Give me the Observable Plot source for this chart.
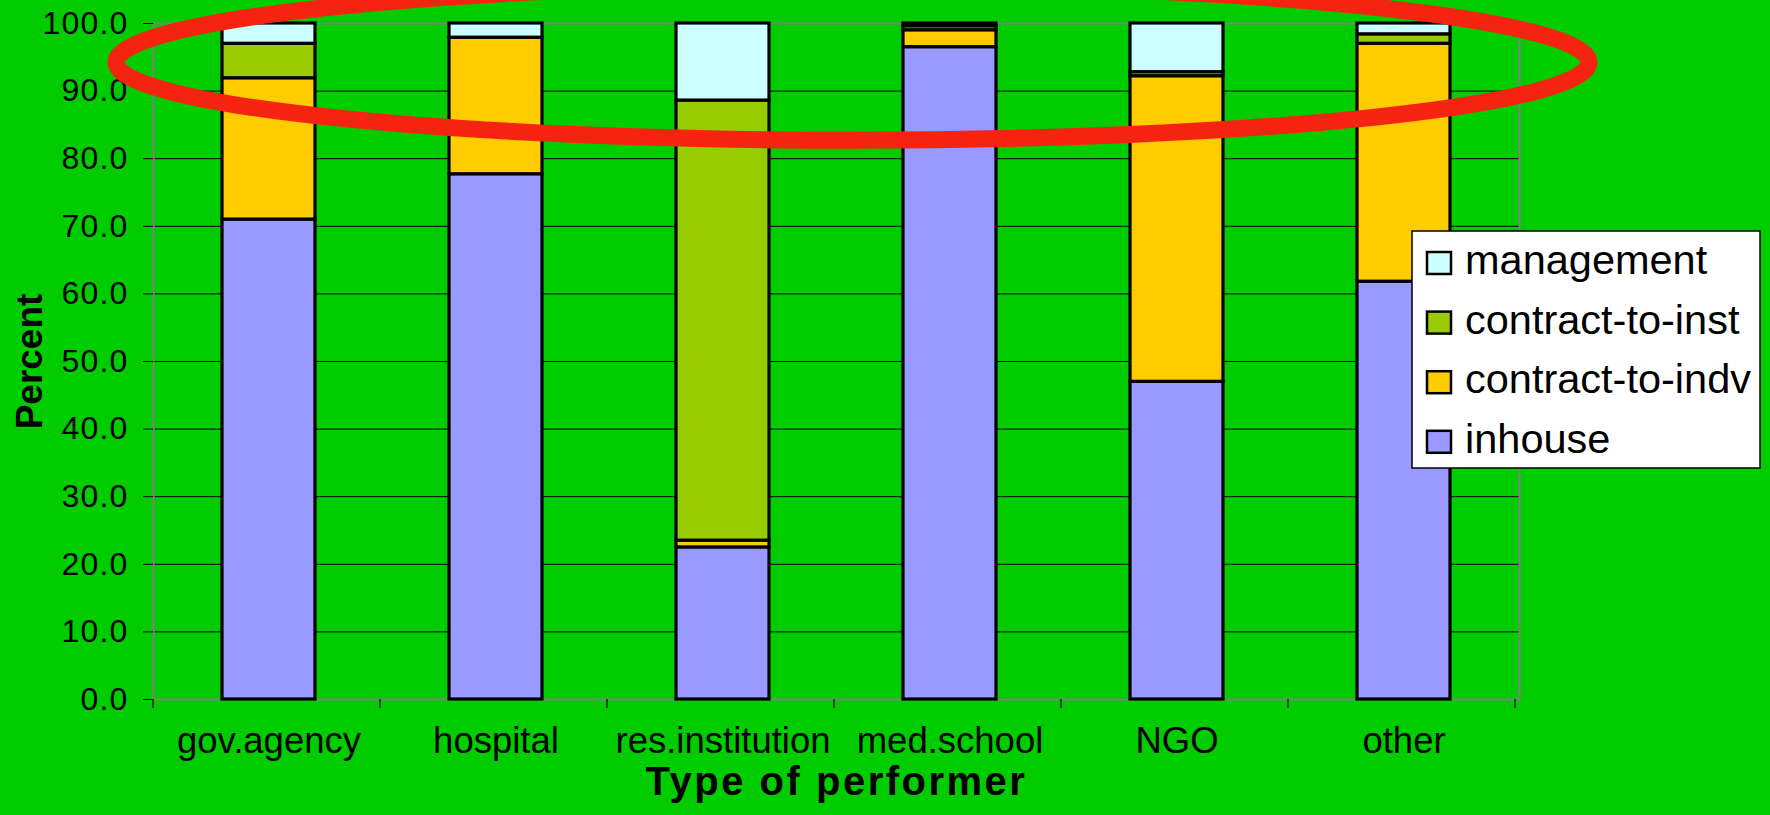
<!DOCTYPE html>
<html>
<head>
<meta charset="utf-8">
<script src="https://cdn.jsdelivr.net/npm/d3@7"></script>
<script src="https://cdn.jsdelivr.net/npm/@observablehq/plot@0.6"></script>
<style>
  html, body { margin: 0; padding: 0; background: #00cc00; }
  #chart { width: 1770px; height: 815px; }
</style>
</head>
<body>
<div id="chart"></div>
<script>
// Categories and stacked shares (percent of spending by type of performer)
const performers = ["gov.agency", "hospital", "res.institution", "med.school", "NGO", "other"];
const series = ["inhouse", "contract-to-indv", "contract-to-inst", "management"];
const seriesColors = ["#9999ff", "#ffcc00", "#99cc00", "#ccffff"];
const legendOrder = ["management", "contract-to-inst", "contract-to-indv", "inhouse"];

const inhouse        = [71.0, 77.7, 22.5, 96.5, 47.0, 61.8];
const contractToIndv = [20.9, 20.2,  1.0,  2.5, 45.2, 35.2];
const contractToInst = [ 5.1,  0.0, 65.1,  0.6,  0.6,  1.4];
const management     = [ 3.0,  2.1, 11.4,  0.4,  7.2,  1.6];

const yTicks = [0, 10, 20, 30, 40, 50, 60, 70, 80, 90, 100];

const valuesBySeries = {
  "inhouse": inhouse,
  "contract-to-indv": contractToIndv,
  "contract-to-inst": contractToInst,
  "management": management
};

// Long table, stacked bottom-up in series order
const table = performers.flatMap((p, i) =>
  series.map(s => ({performer: p, share: s, value: valuesBySeries[s][i]}))
).filter(d => d.value > 0);

const font = "'Liberation Sans', Arial, Helvetica, sans-serif";

const plot = Plot.plot({
  width: 1770,
  height: 815,
  marginLeft: 153,
  marginRight: 251,
  marginTop: 23,
  marginBottom: 116,
  style: {background: "#00cc00", color: "#000", fontFamily: font, overflow: "visible"},
  x: {domain: performers, paddingInner: 0.59, paddingOuter: 0.295, label: null},
  y: {domain: [0, 100], label: null},
  color: {domain: series, range: seriesColors},
  marks: [
    Plot.ruleY(yTicks.filter(v => v > 0 && v < 100), {stroke: "#000", strokeWidth: 1}),
    Plot.frame({stroke: "#808080", strokeWidth: 2}),
    Plot.barY(table, {x: "performer", y: "value", fill: "share", stroke: "#000", strokeWidth: 3.2}),
    Plot.axisY({ticks: yTicks, tickFormat: d3.format(".1f"), tickSize: 10, tickPadding: 15,
                fontSize: 32, label: null, stroke: "#000"}),
    Plot.axisX({tickSize: 0, tickPadding: 28, fontSize: 36.5, label: null}),
    Plot.text(["Percent"], {text: d => d, frameAnchor: "left", textAnchor: "middle",
                            dx: -123, rotate: -90, fontSize: 37, fontWeight: "bold"}),
    Plot.text(["Type of performer"], {text: d => d, frameAnchor: "bottom", textAnchor: "middle",
                                      dy: 95, fontSize: 40, fontWeight: "bold"})
  ]
});

document.getElementById("chart").appendChild(plot);

const svg = d3.select(plot);
svg.selectAll("text").filter(function () { return /^\d+\.\d$/.test(this.textContent); })
  .attr("letter-spacing", "1.2px");
svg.selectAll("text").filter(function () { return this.textContent === "Type of performer"; })
  .attr("letter-spacing", "2.5px");

// Category boundary ticks below the x axis
const xs = plot.scale("x");
const ys = plot.scale("y");
const y0 = ys.apply(0);
const boundaries = d3.range(performers.length + 1).map(i => xs.range[0] + i * xs.step);
svg.append("g")
  .selectAll("line")
  .data(boundaries)
  .join("line")
  .attr("x1", d => d).attr("x2", d => d)
  .attr("y1", y0).attr("y2", y0 + 9)
  .attr("stroke", "#222").attr("stroke-width", 1.5);

// Legend box
const legend = svg.append("g").attr("font-family", font).attr("text-anchor", "start");
const lx = 1412, ly = 231, lw = 348, lh = 237, rowStep = 59.6;
legend.append("rect")
  .attr("x", lx).attr("y", ly).attr("width", lw).attr("height", lh)
  .attr("fill", "#fff").attr("stroke", "#000").attr("stroke-width", 1.5);
legendOrder.forEach((name, i) => {
  const cy = ly + 32 + i * rowStep;
  legend.append("rect")
    .attr("x", lx + 15).attr("y", cy - 11).attr("width", 24).attr("height", 22)
    .attr("fill", seriesColors[series.indexOf(name)])
    .attr("stroke", "#000").attr("stroke-width", 2.5);
  legend.append("text")
    .attr("x", lx + 53).attr("y", cy + 11)
    .attr("text-anchor", "start")
    .attr("font-size", 41.5).attr("fill", "#000")
    .text(name);
});

// Highlight ring around the top of the stacks
svg.append("ellipse")
  .attr("cx", 852.5).attr("cy", ys.apply(94.2))
  .attr("rx", 736.5).attr("ry", 78)
  .attr("fill", "none").attr("stroke", "#f52410").attr("stroke-width", 17);
</script>
</body>
</html>
